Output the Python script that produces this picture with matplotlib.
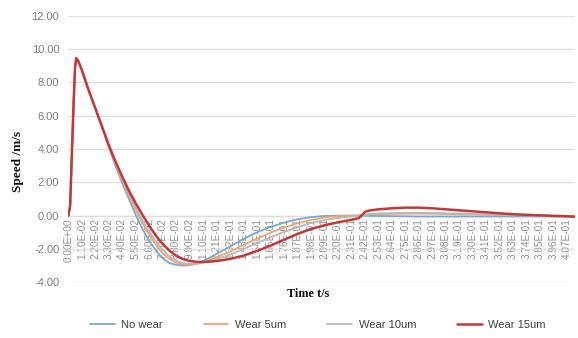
import matplotlib
matplotlib.use("Agg")
import matplotlib.pyplot as plt

# ---- data ----
t = [0.000, 0.0015, 0.003, 0.0045, 0.0055, 0.0065, 0.008, 0.011, 0.0165, 0.022,
     0.0275, 0.033, 0.0385, 0.044, 0.0495, 0.055, 0.0605, 0.066, 0.0715, 0.077,
     0.0825, 0.088, 0.0935, 0.099, 0.1045, 0.110, 0.1155, 0.121, 0.132, 0.143,
     0.154, 0.165, 0.176, 0.187, 0.198, 0.209, 0.220, 0.231, 0.237, 0.240,
     0.242, 0.245, 0.253, 0.264, 0.275, 0.286, 0.297, 0.308, 0.319, 0.330,
     0.341, 0.352, 0.363, 0.374, 0.385, 0.396, 0.407, 0.4136]

no_wear = [0.0, 0.6, 3.9, 7.1, 8.9, 9.45, 9.3, 8.75, 7.55, 6.45,
           5.35, 4.1, 3.0, 1.95, 1.0, 0.05, -0.8, -1.5, -2.1, -2.55,
           -2.85, -2.95, -3.0, -2.98, -2.88, -2.72, -2.52, -2.3, -1.85, -1.4,
           -1.0, -0.68, -0.42, -0.22, -0.09, -0.02, 0.0, 0.0, 0.0, 0.0,
           0.0, -0.01, -0.02, -0.03, -0.04, -0.05, -0.05, -0.05, -0.05, -0.05,
           -0.05, -0.05, -0.05, -0.05, -0.05, -0.05, -0.05, -0.05]

wear_5 = [0.0, 0.6, 3.9, 7.1, 8.9, 9.45, 9.3, 8.75, 7.55, 6.45,
          5.35, 4.15, 3.1, 2.1, 1.2, 0.35, -0.45, -1.15, -1.75, -2.25,
          -2.6, -2.82, -2.93, -2.95, -2.9, -2.8, -2.65, -2.5, -2.15, -1.75,
          -1.38, -1.02, -0.72, -0.46, -0.26, -0.12, -0.04, 0.0, 0.01, 0.03,
          0.05, 0.07, 0.09, 0.11, 0.12, 0.12, 0.11, 0.10, 0.08, 0.07,
          0.05, 0.04, 0.02, 0.01, 0.0, -0.02, -0.03, -0.04]

wear_10 = [0.0, 0.6, 3.9, 7.1, 8.9, 9.45, 9.3, 8.75, 7.55, 6.45,
           5.35, 4.2, 3.15, 2.2, 1.35, 0.5, -0.3, -0.95, -1.55, -2.05,
           -2.45, -2.7, -2.85, -2.9, -2.88, -2.82, -2.72, -2.6, -2.35, -2.0,
           -1.65, -1.3, -0.98, -0.7, -0.45, -0.27, -0.14, -0.05, -0.01, 0.03,
           0.06, 0.09, 0.12, 0.15, 0.17, 0.17, 0.16, 0.14, 0.12, 0.10,
           0.08, 0.06, 0.04, 0.02, 0.0, -0.02, -0.03, -0.04]

wear_15 = [0.0, 0.6, 3.9, 7.1, 8.9, 9.45, 9.3, 8.75, 7.55, 6.45,
           5.35, 4.25, 3.25, 2.35, 1.5, 0.75, 0.05, -0.6, -1.2, -1.7,
           -2.1, -2.4, -2.6, -2.72, -2.77, -2.78, -2.76, -2.72, -2.6, -2.4,
           -2.12, -1.8, -1.45, -1.1, -0.8, -0.58, -0.4, -0.25, -0.15, 0.05,
           0.22, 0.30, 0.38, 0.44, 0.48, 0.48, 0.44, 0.38, 0.32, 0.26,
           0.20, 0.14, 0.09, 0.05, 0.02, -0.01, -0.04, -0.06]

series_names = ["No wear", "Wear 5um", "Wear 10um", "Wear 15um"]
series_colors = ["#7aa6cf", "#f0a46e", "#b8b8b8", "#c0393b"]
series_widths = [1.3, 1.3, 1.3, 1.8]

y_ticks = [-4, -2, 0, 2, 4, 6, 8, 10, 12]
x_tick_times = [round(0.011 * i, 3) for i in range(38)]
x_tick_labels = ["{:.2E}".format(v) for v in x_tick_times]

# ---- figure ----
fig = plt.figure(figsize=(5.78, 3.38), dpi=100)
ax = fig.add_axes([68.3 / 578, 55.7 / 338, 506.7 / 578, 266.6 / 338])

for s in ["top", "right", "left"]:
    ax.spines[s].set_visible(False)
ax.spines["bottom"].set_position(("data", 0))
ax.spines["bottom"].set_color("#d9d9d9")
ax.spines["bottom"].set_zorder(0.5)

for vals, name, col, lw in zip([no_wear, wear_5, wear_10, wear_15],
                               series_names, series_colors, series_widths):
    ax.plot(t, vals, color=col, lw=lw, label=name, solid_capstyle="round",
            solid_joinstyle="round")

ax.set_xlim(0, 0.4136)
ax.set_ylim(-4, 12)
ax.set_yticks(y_ticks)
ax.set_yticklabels(["{:.2f}".format(v) for v in y_ticks],
                   fontfamily="Liberation Sans", fontsize=8, color="#7f7f7f")
ax.set_xticks(x_tick_times)
ax.set_xticklabels(x_tick_labels, rotation=90, fontfamily="Liberation Sans",
                   fontsize=7.2, color="#8f8f8f", va="top")
ax.tick_params(axis="both", length=0)
ax.tick_params(axis="y", pad=6.5)
ax.tick_params(axis="x", pad=2)

ax.grid(axis="y", color="#dedede", lw=0.9)
ax.set_axisbelow(True)

fig.text(18 / 578, 1 - 161 / 338, "Speed /m/s", rotation=90, ha="center",
         va="center", fontfamily="Liberation Serif", fontweight="bold",
         fontsize=9.5, color="#111111")
fig.text(308.5 / 578, 1 - 294 / 338, "Time t/s", ha="center", va="center",
         fontfamily="Liberation Serif", fontweight="bold", fontsize=8.8,
         color="#111111")

leg = fig.legend(loc="center", bbox_to_anchor=(318 / 578, 1 - 325 / 338),
                 ncol=4, frameon=False, prop={"family": "Liberation Sans", "size": 8},
                 handlelength=2.2, handletextpad=0.6, columnspacing=3.7)
for txt in leg.get_texts():
    txt.set_color("#404040")

fig.savefig("out.png", dpi=100)
